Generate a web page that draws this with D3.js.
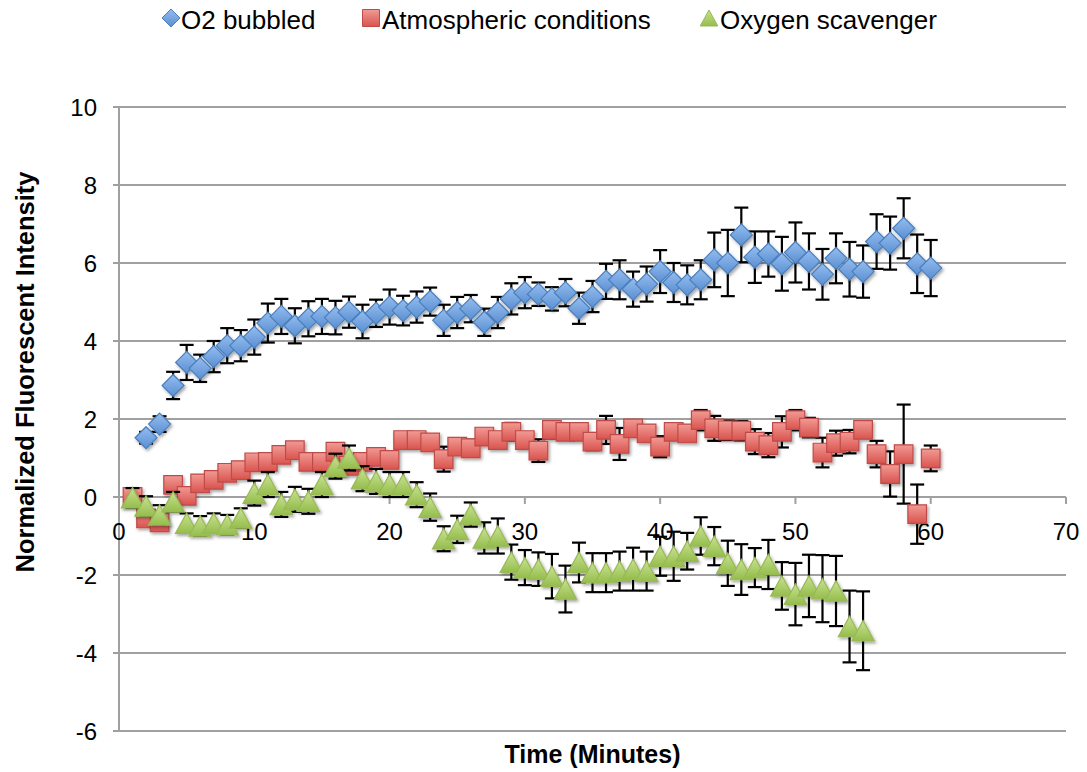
<!DOCTYPE html>
<html>
<head>
<meta charset="utf-8">
<script src="https://cdn.jsdelivr.net/npm/d3@7"></script>
<style>
  html, body { margin: 0; padding: 0; background: #fff; }
  svg { display: block; }
  text { font-family: "Liberation Sans", Arial, Helvetica, sans-serif; fill: #000; }
</style>
</head>
<body>
<svg id="chart" width="1087" height="772"></svg>
<script>
// ---------------- data ----------------
const seriesNames = ["O2 bubbled", "Atmospheric conditions", "Oxygen scavenger"];

const o2Time = d3.range(2, 61);
const o2Values = [1.52,1.87,2.86,3.45,3.30,3.60,3.88,3.88,4.10,4.46,4.63,4.39,4.57,4.63,4.60,4.74,4.50,4.71,4.87,4.78,4.87,5.01,
  4.53,4.73,4.83,4.48,4.73,5.08,5.24,5.20,5.08,5.24,4.84,5.14,5.53,5.57,5.33,5.46,5.78,5.50,5.44,5.57,6.08,6.00,
  6.72,6.15,6.23,5.98,6.27,6.04,5.71,6.12,5.84,5.78,6.55,6.51,6.89,5.98,5.87];
const o2Errors = [0.15,0.20,0.35,0.45,0.35,0.40,0.45,0.40,0.45,0.50,0.45,0.45,0.45,0.45,0.43,0.40,0.43,0.35,0.45,0.38,0.40,0.36,
  0.40,0.40,0.35,0.35,0.40,0.40,0.40,0.30,0.30,0.35,0.40,0.40,0.45,0.50,0.45,0.45,0.55,0.50,0.50,0.50,0.70,0.85,
  0.70,0.66,0.58,0.69,0.77,0.72,0.65,0.64,0.70,0.67,0.70,0.68,0.77,0.75,0.72];

const atmTime = d3.range(1, 61);
const atmValues = [0.00,-0.55,-0.65,0.31,0.03,0.35,0.44,0.62,0.69,0.89,0.90,1.08,1.20,0.90,0.90,1.16,0.80,0.90,1.03,0.95,1.46,1.46,1.40,
  0.97,1.29,1.25,1.55,1.46,1.67,1.46,1.19,1.72,1.67,1.67,1.42,1.72,1.36,1.76,1.63,1.29,1.67,1.63,1.97,1.76,1.71,1.70,
  1.42,1.33,1.67,1.97,1.78,1.14,1.38,1.42,1.72,1.10,0.59,1.10,-0.44,0.99];
const atmErrors = [0.15,0.15,0.15,0.15,0.15,0.15,0.15,0.15,0.15,0.15,0.15,0.15,0.15,0.15,0.15,0.15,0.15,0.15,0.15,0.15,0.20,0.20,0.20,
  0.32,0.20,0.22,0.20,0.20,0.23,0.20,0.29,0.22,0.20,0.20,0.22,0.36,0.41,0.20,0.20,0.27,0.20,0.20,0.26,0.32,0.25,0.25,
  0.32,0.31,0.40,0.26,0.25,0.38,0.32,0.30,0.20,0.34,0.58,1.27,0.76,0.33];

const scavTime = d3.range(1, 56);
const scavValues = [-0.02,-0.23,-0.46,-0.12,-0.67,-0.74,-0.67,-0.71,-0.54,0.10,0.32,-0.19,-0.06,-0.11,0.32,0.79,1.00,0.47,0.40,0.32,0.32,0.06,
  -0.26,-1.07,-0.83,-0.45,-1.05,-1.00,-1.67,-1.81,-1.85,-2.03,-2.36,-1.68,-1.94,-1.94,-1.90,-1.85,-1.90,-1.52,-1.52,-1.39,-1.00,-1.26,
  -1.70,-1.86,-1.81,-1.73,-2.28,-2.49,-2.28,-2.35,-2.41,-3.32,-3.43];
const scavErrors = [0.25,0.25,0.25,0.25,0.25,0.25,0.25,0.25,0.25,0.32,0.32,0.32,0.32,0.32,0.32,0.32,0.32,0.32,0.32,0.32,0.32,0.32,
  0.35,0.32,0.35,0.31,0.40,0.45,0.45,0.45,0.43,0.57,0.60,0.51,0.50,0.50,0.50,0.55,0.50,0.50,0.63,0.47,0.48,0.49,
  0.58,0.65,0.50,0.63,0.61,0.80,0.80,0.86,0.90,0.92,1.01];

const xTicks = [0,10,20,30,40,50,60,70];
const yTicks = [-6,-4,-2,0,2,4,6,8,10];
const xTitle = "Time (Minutes)";
const yTitle = "Normalized Fluorescent Intensity";

// ---------------- layout ----------------
const svg = d3.select("#chart");
const pLeft = 119, pRight = 1066, pTop = 107, pBottom = 731;
const x = d3.scaleLinear().domain([0, 70]).range([pLeft, pRight]);
const y = d3.scaleLinear().domain([-6, 10]).range([pBottom, pTop]);

const defs = svg.append("defs");
const sh = defs.append("filter").attr("id", "shadow").attr("x", "-50%").attr("y", "-50%").attr("width", "200%").attr("height", "200%");
sh.append("feDropShadow").attr("dx", 1.5).attr("dy", 2).attr("stdDeviation", 1.5).attr("flood-color", "#000").attr("flood-opacity", 0.35);

function grad(id, c1, c2) {
  const g = defs.append("linearGradient").attr("id", id).attr("x1", 0).attr("y1", 0).attr("x2", 0).attr("y2", 1);
  g.append("stop").attr("offset", "0%").attr("stop-color", c1);
  g.append("stop").attr("offset", "100%").attr("stop-color", c2);
}
grad("gBlue", "#94bdef", "#5a8fd2");
grad("gRed", "#f29a94", "#d9534e");
grad("gGreen", "#c8e293", "#95bd4c");

// gridlines
svg.append("g").selectAll("line").data(yTicks).join("line")
  .attr("x1", pLeft - 6).attr("x2", pRight)
  .attr("y1", d => y(d)).attr("y2", d => y(d))
  .attr("stroke", "#a0a0a0").attr("stroke-width", 2);

// y axis line
svg.append("line").attr("x1", pLeft).attr("x2", pLeft).attr("y1", pTop).attr("y2", pBottom)
  .attr("stroke", "#a0a0a0").attr("stroke-width", 2);

// x tick marks at y=0
svg.append("g").selectAll("line").data(xTicks).join("line")
  .attr("x1", d => x(d)).attr("x2", d => x(d))
  .attr("y1", y(0)).attr("y2", y(0) + 7)
  .attr("stroke", "#a0a0a0").attr("stroke-width", 2);

// y tick labels
svg.append("g").selectAll("text").data(yTicks).join("text")
  .attr("x", pLeft - 22).attr("y", d => y(d))
  .attr("dy", "0.36em").attr("text-anchor", "end")
  .style("font-size", "24px").text(d => d);

// x tick labels
svg.append("g").selectAll("text").data(xTicks).join("text")
  .attr("x", d => x(d)).attr("y", y(0) + 34)
  .attr("dy", "0.36em").attr("text-anchor", "middle")
  .style("font-size", "24px").text(d => d);

// axis titles
svg.append("text").attr("x", (pLeft + pRight) / 2).attr("y", 754).attr("dy", "0.36em")
  .attr("text-anchor", "middle").style("font-size", "25px").style("font-weight", "bold").text(xTitle);
svg.append("text").attr("transform", "translate(25,372) rotate(-90)")
  .attr("dy", "0.36em").attr("text-anchor", "middle")
  .style("font-size", "25.5px").style("font-weight", "bold").text(yTitle);

// markers
const diamond = s => `M0,${-s}L${s},0L0,${s}L${-s},0Z`;
const square = s => `M${-s},${-s}H${s}V${s}H${-s}Z`;
const triangle = s => `M0,${-s}L${s * 1.1},${s}L${-s * 1.1},${s}Z`;

const series = [
  { name: seriesNames[0], t: o2Time, v: o2Values, e: o2Errors, shape: diamond, size: 11, fill: "url(#gBlue)", stroke: "#4a7ebb" },
  { name: seriesNames[1], t: atmTime, v: atmValues, e: atmErrors, shape: square, size: 9.3, fill: "url(#gRed)", stroke: "#be4b48" },
  { name: seriesNames[2], t: scavTime, v: scavValues, e: scavErrors, shape: triangle, size: 10.2, fill: "url(#gGreen)", stroke: "#98b954" }
];

series.forEach(s => {
  const pts = s.t.map((t, i) => ({ t, v: s.v[i], e: s.e[i] }));
  const g = svg.append("g");
  const eb = g.append("g").attr("stroke", "#000").attr("stroke-width", 2.2);
  eb.selectAll("line.v").data(pts).join("line").attr("class", "v")
    .attr("x1", d => x(d.t)).attr("x2", d => x(d.t))
    .attr("y1", d => y(d.v + d.e)).attr("y2", d => y(d.v - d.e));
  eb.selectAll("line.t").data(pts).join("line").attr("class", "t")
    .attr("x1", d => x(d.t) - 7).attr("x2", d => x(d.t) + 7)
    .attr("y1", d => y(d.v + d.e)).attr("y2", d => y(d.v + d.e));
  eb.selectAll("line.b").data(pts).join("line").attr("class", "b")
    .attr("x1", d => x(d.t) - 7).attr("x2", d => x(d.t) + 7)
    .attr("y1", d => y(d.v - d.e)).attr("y2", d => y(d.v - d.e));
  g.append("g").attr("filter", "url(#shadow)").selectAll("path").data(pts).join("path")
    .attr("transform", d => `translate(${x(d.t)},${y(d.v)})`)
    .attr("d", s.shape(s.size))
    .attr("fill", s.fill).attr("stroke", s.stroke).attr("stroke-width", 1.2);
});

// legend
const legendItems = [
  { name: seriesNames[0], shape: diamond, size: 9, fill: "url(#gBlue)", stroke: "#4a7ebb", mx: 171, tx: 181 },
  { name: seriesNames[1], shape: square, size: 8.5, fill: "url(#gRed)", stroke: "#be4b48", mx: 371, tx: 382 },
  { name: seriesNames[2], shape: triangle, size: 8, fill: "url(#gGreen)", stroke: "#98b954", mx: 709, tx: 720 }
];
const lg = svg.append("g");
legendItems.forEach(l => {
  lg.append("path").attr("transform", `translate(${l.mx},18)`).attr("d", l.shape(l.size))
    .attr("fill", l.fill).attr("stroke", l.stroke).attr("stroke-width", 1);
  lg.append("text").attr("x", l.tx).attr("y", 20).attr("dy", "0.36em")
    .style("font-size", "26px").text(l.name);
});
</script>
</body>
</html>
